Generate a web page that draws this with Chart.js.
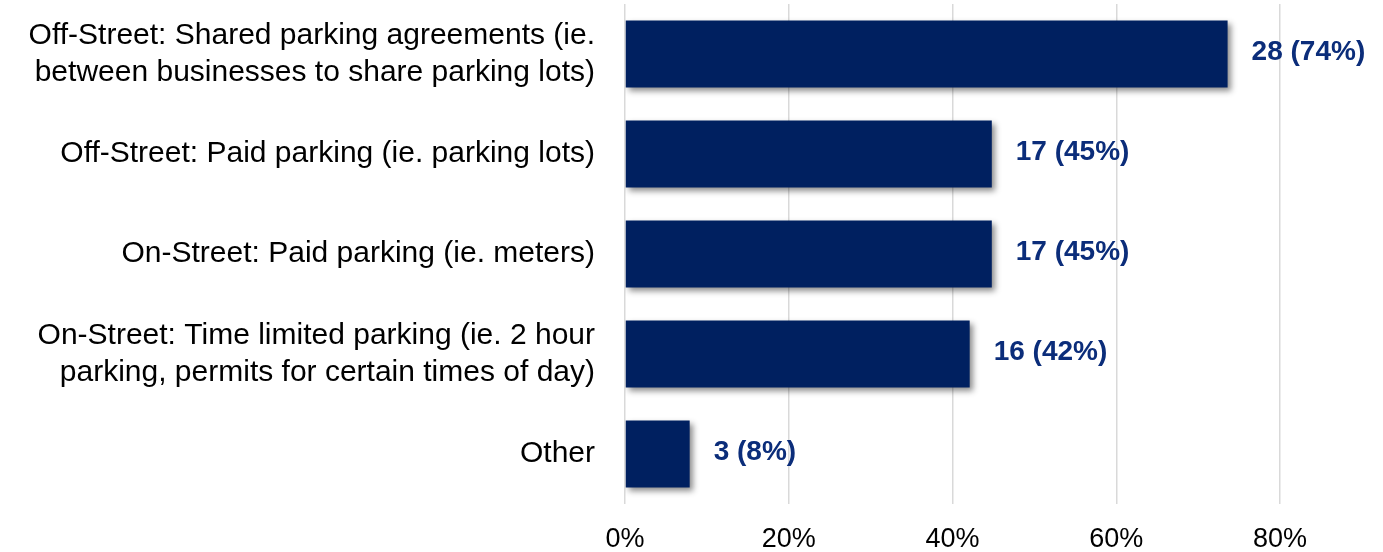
<!DOCTYPE html>
<html><head><meta charset="utf-8">
<script src="https://cdn.jsdelivr.net/npm/chart.js@4/dist/chart.umd.min.js"></script>
<style>html,body{margin:0;padding:0;background:#fff}#wrap{width:1383px;height:552px}</style>
</head><body><div id="wrap"><canvas id="c" width="1383" height="552"></canvas></div>
<script>
const categories = [
  ["Off-Street: Shared parking agreements (ie.", "between businesses to share parking lots)"],
  "Off-Street: Paid parking (ie. parking lots)",
  "On-Street: Paid parking (ie. meters)",
  ["On-Street: Time limited parking (ie. 2 hour", "parking, permits for certain times of day)"],
  "Other"
];
const percentValues = [73.6, 44.8, 44.8, 42.1, 7.9];
const valueLabels = ["28 (74%)", "17 (45%)", "17 (45%)", "16 (42%)", "3 (8%)"];
const xTicks = [0, 20, 40, 60, 80];

const FONT = "'Liberation Sans', Arial, sans-serif";

const shadowPlugin = {
  id: 'shadow',
  beforeDatasetsDraw(chart) {
    const ctx = chart.ctx;
    ctx.save();
    ctx.shadowColor = 'rgba(0,0,0,0.45)';
    ctx.shadowBlur = 6;
    ctx.shadowOffsetX = 3;
    ctx.shadowOffsetY = 3;
  },
  afterDatasetsDraw(chart) {
    const ctx = chart.ctx;
    ctx.restore();
    const meta = chart.getDatasetMeta(0);
    ctx.save();
    ctx.font = "bold 28px " + FONT;
    ctx.fillStyle = '#0B2D7A';
    ctx.textBaseline = 'middle';
    ctx.textAlign = 'left';
    meta.data.forEach((bar, i) => {
      ctx.fillText(valueLabels[i], bar.x + 24, bar.y - 2);
    });
    ctx.restore();
  }
};

new Chart(document.getElementById('c'), {
  type: 'bar',
  data: {
    labels: categories,
    datasets: [{
      data: percentValues,
      backgroundColor: '#002060',
      borderWidth: 0,
      barPercentage: 0.67,
      categoryPercentage: 1.0
    }]
  },
  options: {
    indexAxis: 'y',
    responsive: false,
    animation: false,
    layout: { padding: { top: 4, right: 103, bottom: 0, left: 0 } },
    plugins: { legend: { display: false }, tooltip: { enabled: false } },
    scales: {
      x: {
        min: 0, max: 80,
        afterBuildTicks(scale) { scale.ticks = xTicks.map(v => ({ value: v })); },
        afterFit(scale) { scale.height = 48; scale.paddingLeft = 0; scale.paddingRight = 0; },
        ticks: {
          callback: v => v + '%',
          color: '#000',
          font: { family: FONT, size: 27 },
          padding: 19
        },
        grid: { color: '#d9d9d9', lineWidth: 1.5, drawTicks: false },
        border: { display: false }
      },
      y: {
        afterFit(scale) { scale.width = 625; scale.paddingTop = 0; scale.paddingBottom = 0; },
        ticks: {
          color: '#000',
          font: { family: FONT, size: 30, lineHeight: 1.23 },
          padding: 30,
          crossAlign: 'near'
        },
        grid: { display: false, drawTicks: false },
        border: { display: false }
      }
    }
  },
  plugins: [shadowPlugin]
});
</script></body></html>
